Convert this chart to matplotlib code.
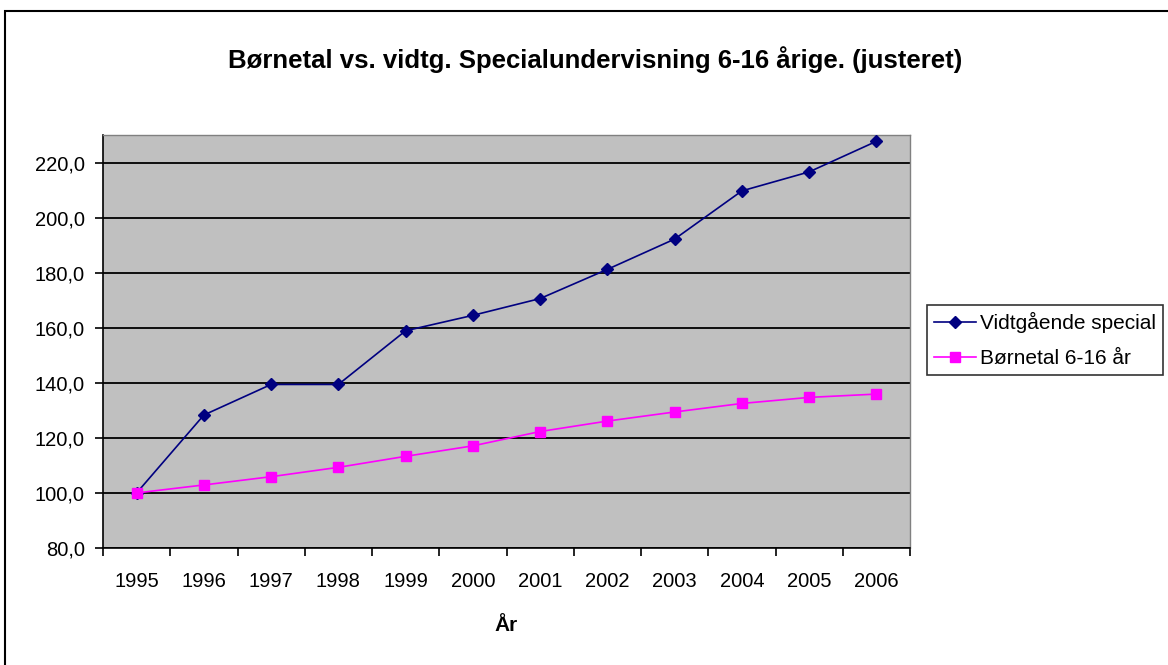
import matplotlib
matplotlib.use("Agg")
import matplotlib.pyplot as plt
from matplotlib.patches import Rectangle
from matplotlib.ticker import FixedLocator, FuncFormatter

plt.rcParams['font.family'] = ['Liberation Sans', 'DejaVu Sans']

years = ['1995', '1996', '1997', '1998', '1999', '2000',
         '2001', '2002', '2003', '2004', '2005', '2006']
vidtgaaende = [100.0, 128.3, 139.4, 139.4, 158.9, 164.5,
               170.6, 181.2, 192.2, 209.7, 216.6, 227.7]
boernetal = [100.0, 102.9, 105.9, 109.3, 113.3, 117.1,
             122.3, 126.1, 129.4, 132.5, 134.7, 135.9]
yticks = [80, 100, 120, 140, 160, 180, 200, 220]

fig = plt.figure(figsize=(11.68, 6.65), dpi=100)
# outer chart border
fig.patches.append(Rectangle((5/1168, -0.01), 1.2, 1 - 11/665 + 0.01,
                             transform=fig.transFigure, fill=False,
                             edgecolor='black', linewidth=1.5))

ax = fig.add_axes([103/1168, 1 - 548/665, 807/1168, 413/665])
ax.set_facecolor('#c0c0c0')

x = list(range(len(years)))
ax.plot(x, vidtgaaende, color='#000080', marker='D', markersize=6.5,
        linewidth=1.2, label='Vidtgående special', zorder=3)
ax.plot(x, boernetal, color='#ff00ff', marker='s', markersize=7,
        linewidth=1.2, label='Børnetal 6-16 år', zorder=3)

ax.set_xlim(-0.5, len(years) - 0.5)
ax.set_ylim(80, 230)
ax.set_yticks(yticks)
ax.yaxis.set_major_formatter(FuncFormatter(lambda v, p: f"{v:.1f}".replace('.', ',')))
ax.grid(axis='y', color='black', linewidth=1.3, zorder=1)
ax.set_axisbelow(True)

# ticks between categories, labels at centres
ax.xaxis.set_major_locator(FixedLocator([i - 0.5 for i in range(len(years) + 1)]))
ax.xaxis.set_minor_locator(FixedLocator(x))
ax.set_xticklabels([])
ax.set_xticklabels(years, minor=True)
ax.tick_params(axis='x', which='major', length=6, width=1.2, direction='out')
ax.tick_params(axis='x', which='minor', length=0, labelsize=14.5, pad=17)
ax.tick_params(axis='y', length=6, width=1.2, direction='out', labelsize=14.5, pad=7)

for s in ['top', 'right']:
    ax.spines[s].set_color('#808080')
    ax.spines[s].set_linewidth(1)
for s in ['left', 'bottom']:
    ax.spines[s].set_color('black')
    ax.spines[s].set_linewidth(1.2)

ax.set_xlabel('År', fontsize=15, fontweight='bold', labelpad=18)
fig.text(595/1168, 1 - 60/665, 'Børnetal vs. vidtg. Specialundervisning 6-16 årige. (justeret)',
         ha='center', va='center', fontsize=18.5, fontweight='bold')

leg = fig.legend(loc='upper left', bbox_to_anchor=(927/1168, 1 - 305/665),
                 fontsize=15, frameon=True, fancybox=False, edgecolor='black',
                 borderpad=0.35, handlelength=2.0, handletextpad=0.2,
                 labelspacing=0.75, borderaxespad=0)
leg.get_frame().set_linewidth(1.2)

fig.savefig('out.png', dpi=100)
